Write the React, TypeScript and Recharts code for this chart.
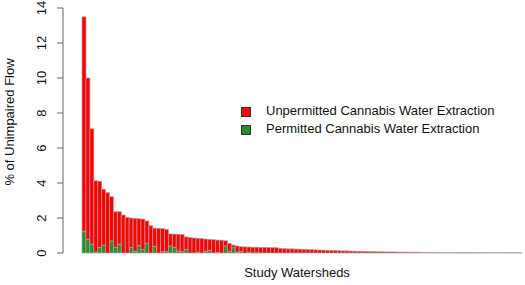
import React from "react";
import { BarChart, Bar, XAxis, YAxis } from "recharts";

// totals per watershed (% of unimpaired flow), sorted descending
const totals = [
  13.5, 10.0, 7.1, 4.13, 4.1, 3.64, 3.45, 3.22, 2.36, 2.36,
  2.17, 2.04, 2.0, 1.98, 1.96, 1.94, 1.83, 1.56, 1.42, 1.41,
  1.4, 1.35, 1.09, 1.08, 1.07, 1.06, 0.92, 0.89, 0.86, 0.84,
  0.83, 0.8, 0.78, 0.76, 0.74, 0.73, 0.7, 0.55, 0.45, 0.4,
  0.36, 0.35, 0.34, 0.33, 0.33, 0.32, 0.32, 0.31, 0.31, 0.3,
  0.26, 0.25, 0.24, 0.24, 0.23, 0.22, 0.21, 0.2, 0.19, 0.18,
  0.17, 0.16, 0.15, 0.15, 0.14, 0.13, 0.12, 0.12, 0.11, 0.1,
  0.1, 0.09, 0.09, 0.08, 0.08, 0.07, 0.07, 0.06, 0.06, 0.06,
  0.05, 0.05, 0.05, 0.04, 0.04, 0.04, 0.03, 0.03, 0.03, 0.03,
  0.02, 0.02, 0.02, 0.02, 0.02, 0.02, 0.02, 0.02, 0.02, 0.02,
  0.01, 0.01, 0.01, 0.01, 0.01, 0.01, 0.01, 0.01, 0.01, 0.01,
  0.01, 0.01,
];

// permitted share of each bar
const permitted = [
  1.25, 0.78, 0.5, 0.05, 0.32, 0.44, 0, 0.69, 0.32, 0.5,
  0, 0, 0.32, 0.1, 0.42, 0.2, 0.55, 0, 0.38, 0,
  0.08, 0.08, 0.4, 0.32, 0.12, 0.08, 0.2, 0, 0, 0.04,
  0, 0.1, 0.15, 0, 0.02, 0, 0.4, 0.1, 0.3, 0.05,
  0.08, 0, 0.04, 0, 0.02,
];

const yTicks = [0, 2, 4, 6, 8, 10, 12, 14];

const RED = "#ff0000";
const GREEN = "#2a8c2a";
const FONT = "'Liberation Sans', Arial, Helvetica, sans-serif";

const data = totals.map((t, i) => {
  const p = permitted[i] ?? 0;
  return { id: i + 1, permitted: p, unpermitted: +(t - p).toFixed(3) };
});

function RotTick({ x, y, payload }: { x?: number; y?: number; payload?: { value: number } }) {
  const cx = (x ?? 0) - 14;
  return (
    <text x={cx} y={y} transform={`rotate(-90, ${cx}, ${y})`} textAnchor="middle" dominantBaseline="central" fontSize={13} fill="#111" fontFamily={FONT}>
      {payload?.value}
    </text>
  );
}

function Swatch({ color }: { color: string }) {
  return <span style={{ display: "inline-block", width: 8, height: 8, background: color, border: "1px solid #333", marginRight: 15, verticalAlign: "middle" }} />;
}

export default function App() {
  return (
    <div style={{ position: "fixed", left: 0, top: 0, width: 525, height: 285, background: "#fff", fontFamily: FONT }}>
      <BarChart width={525} height={285} data={data} margin={{ top: 8, right: 3, bottom: 32, left: 0 }} barCategoryGap={0}>
        <XAxis dataKey="id" hide padding={{ left: 19, right: 0 }} />
        <YAxis domain={[0, 14]} ticks={yTicks} width={63} axisLine={{ stroke: "#666" }} tickLine={{ stroke: "#666" }} tick={<RotTick />} interval={0} />
        <Bar dataKey="permitted" stackId="a" fill={GREEN} stroke="#a8a8a8" strokeWidth={0.7} isAnimationActive={false} />
        <Bar dataKey="unpermitted" stackId="a" fill={RED} stroke="#a8a8a8" strokeWidth={0.7} isAnimationActive={false} />
      </BarChart>
      <div style={{ position: "absolute", left: 9, top: 122, transform: "translate(-50%, -50%) rotate(-90deg)", fontSize: 13, whiteSpace: "nowrap", color: "#111" }}>
        % of Unimpaired Flow
      </div>
      <div style={{ position: "absolute", left: 297, top: 272, transform: "translate(-50%, -50%)", fontSize: 13, whiteSpace: "nowrap", color: "#111" }}>
        Study Watersheds
      </div>
      <div style={{ position: "absolute", left: 241, top: 102, fontSize: 13, lineHeight: "18px", color: "#111", whiteSpace: "nowrap" }}>
        <div><Swatch color={RED} />Unpermitted Cannabis Water Extraction</div>
        <div><Swatch color={GREEN} />Permitted Cannabis Water Extraction</div>
      </div>
    </div>
  );
}
